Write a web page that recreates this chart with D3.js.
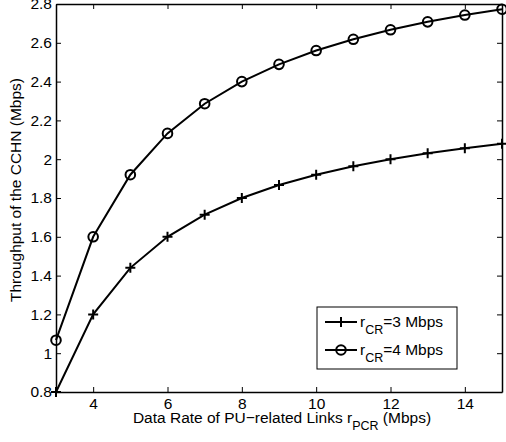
<!DOCTYPE html>
<html>
<head>
<meta charset="utf-8">
<script src="https://cdn.jsdelivr.net/npm/d3@7"></script>
<style>
  body { margin: 0; background: #fff; }
  text { font-family: "Liberation Sans", Arial, sans-serif; fill: #000; }
</style>
</head>
<body>
<div id="chart"></div>
<script>
// data
const rates = [3, 4, 5, 6, 7, 8, 9, 10, 11, 12, 13, 14, 15];
const cr3 = [0.8, 1.2, 1.44, 1.6, 1.714, 1.8, 1.867, 1.92, 1.964, 2.0, 2.031, 2.057, 2.08];
const cr4 = [1.067, 1.6, 1.92, 2.133, 2.286, 2.4, 2.489, 2.56, 2.618, 2.667, 2.708, 2.743, 2.773];
const xTicks = [4, 6, 8, 10, 12, 14];
const yTicks = [0.8, 1, 1.2, 1.4, 1.6, 1.8, 2, 2.2, 2.4, 2.6, 2.8];

const width = 506, height = 442;
const margin = {left: 56, right: 4, top: 4, bottom: 50};
const fs = '15.5px';

const svg = d3.select('#chart')
  .append('svg')
  .attr('width', width)
  .attr('height', height);

const x = d3.scaleLinear().domain([3, 15]).range([margin.left, width - margin.right]);
const y = d3.scaleLinear().domain([0.8, 2.8]).range([height - margin.bottom, margin.top]);

const tickLen = 5;

// axes, ticks pointing inward
const gBottom = svg.append('g')
  .attr('transform', `translate(0,${y(0.8)})`)
  .call(d3.axisBottom(x).tickValues(xTicks).tickSizeInner(-tickLen).tickSizeOuter(0).tickPadding(6).tickFormat(d3.format('d')));
const gTop = svg.append('g')
  .attr('transform', `translate(0,${y(2.8)})`)
  .call(d3.axisTop(x).tickValues(xTicks).tickSizeInner(-tickLen).tickSizeOuter(0).tickFormat(''));
const gLeft = svg.append('g')
  .attr('transform', `translate(${x(3)},0)`)
  .call(d3.axisLeft(y).tickValues(yTicks).tickSizeInner(-tickLen).tickSizeOuter(0).tickPadding(4).tickFormat(d => String(+d.toFixed(1))));
const gRight = svg.append('g')
  .attr('transform', `translate(${x(15)},0)`)
  .call(d3.axisRight(y).tickValues(yTicks).tickSizeInner(-tickLen).tickSizeOuter(0).tickFormat(''));

[gBottom, gTop, gLeft, gRight].forEach(g => {
  g.select('.domain').attr('stroke', '#000').attr('stroke-width', 1.5);
  g.selectAll('.tick line').attr('stroke', '#000').attr('stroke-width', 1);
  g.selectAll('.tick text').style('font-size', fs).attr('fill', '#000')
    .style('font-family', '"Liberation Sans", Arial, sans-serif');
});

// lines
const line = d3.line().x((d, i) => x(rates[i])).y(d => y(d));

svg.append('path').datum(cr3)
  .attr('d', line).attr('fill', 'none').attr('stroke', '#000').attr('stroke-width', 2);
svg.append('path').datum(cr4)
  .attr('d', line).attr('fill', 'none').attr('stroke', '#000').attr('stroke-width', 2);

const plus = (g, cx, cy) => {
  g.append('path')
    .attr('d', `M${cx - 5},${cy}H${cx + 5}M${cx},${cy - 5}V${cy + 5}`)
    .attr('stroke', '#000').attr('stroke-width', 2);
};
const circ = (g, cx, cy) => {
  g.append('circle').attr('cx', cx).attr('cy', cy).attr('r', 4.8)
    .attr('fill', 'none').attr('stroke', '#000').attr('stroke-width', 2);
};

const marks = svg.append('g');
cr3.forEach((d, i) => plus(marks, x(rates[i]), y(d)));
cr4.forEach((d, i) => circ(marks, x(rates[i]), y(d)));

// legend
const lg = svg.append('g');
lg.append('rect').attr('x', 317).attr('y', 307).attr('width', 140).attr('height', 62)
  .attr('fill', '#fff').attr('stroke', '#000').attr('stroke-width', 1);
const items = [{label: '3', mark: plus, yy: 322}, {label: '4', mark: circ, yy: 350}];
items.forEach(it => {
  lg.append('line').attr('x1', 325).attr('x2', 357).attr('y1', it.yy).attr('y2', it.yy)
    .attr('stroke', '#000').attr('stroke-width', 2);
  it.mark(lg, 341, it.yy);
  const t = lg.append('text').attr('x', 360).attr('y', it.yy + 4.5).style('font-size', fs);
  t.append('tspan').text('r');
  t.append('tspan').attr('dy', 7).style('font-size', '12.5px').text('CR');
  t.append('tspan').attr('dy', -7).text(`=${it.label} Mbps`);
});

// axis labels
const xl = svg.append('text')
  .attr('x', 282).attr('y', 423)
  .attr('text-anchor', 'middle')
  .style('font-size', fs);
xl.append('tspan').text('Data Rate of PU\u2212related Links r');
xl.append('tspan').attr('dy', 7).style('font-size', '12.5px').text('PCR');
xl.append('tspan').attr('dy', -7).text(' (Mbps)');

svg.append('text')
  .attr('transform', 'translate(21,190) rotate(-90)')
  .attr('text-anchor', 'middle')
  .style('font-size', fs)
  .text('Throughput of the CCHN (Mbps)');
</script>
</body>
</html>
